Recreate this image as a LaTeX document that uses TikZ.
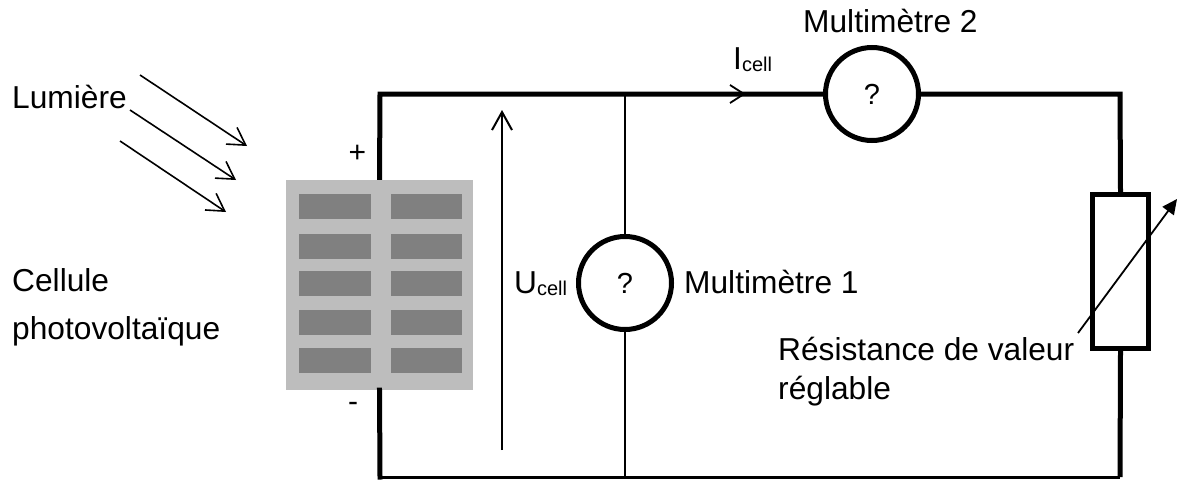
\documentclass[tikz,border=0pt]{standalone}
\usepackage{fontspec}
\setmainfont{Liberation Sans}
\usetikzlibrary{arrows.meta}
\tikzset{
  x=1pt,y=-1pt,
  lab/.style={font=\fontsize{31.7}{36}\selectfont,inner sep=0pt,anchor=base west},
  small/.style={font=\fontsize{30}{34}\selectfont,inner sep=0pt},
  meter/.style={circle,draw,line width=5pt,fill=white,minimum size=93pt,inner sep=0pt,font=\fontsize{29}{33}\selectfont},
  thick wire/.style={line width=5pt},
  thin wire/.style={line width=2.6pt},
  ray/.style={line width=1.6pt,-{Straight Barb[length=17pt,width=20pt]}},
  panel/.style={fill=black!26,draw=none,minimum width=187pt,minimum height=210pt,inner sep=0pt},
  cellbox/.style={fill=black!50,draw=none,minimum width=71.5pt,minimum height=25pt,inner sep=0pt},
  res/.style={draw,line width=5pt,fill=white,minimum width=56pt,minimum height=154pt,inner sep=0pt}
}
\newcommand{\subcell}{\raisebox{-2.5pt}{\fontsize{20}{24}\selectfont cell}}
\begin{document}
\begin{tikzpicture}
\useasboundingbox (0,0) rectangle (1177,479);
% corners
\coordinate (tl) at (380,94);
\coordinate (bl) at (380,477);
\coordinate (tr) at (1120,94);
\coordinate (br) at (1120,477);
\coordinate (tm) at (625,94);
\coordinate (bm) at (625,477);
% wires
\node[res] (R) at (1120.5,271.5) {};
\node[panel] (P) at (379.5,285) {};
\draw[thin wire] (tm) -- (bm);
\draw[line width=3pt] (bl) -- (br);
\node[meter] (M1) at (625,283) {?};
\node[meter] (M2) at (872,94) {?};
\draw[thick wire,line join=miter] (P.north) -- (tl) -- (M2.west);
\draw[thick wire,line join=miter] (M2.east) -- (tr) -- (R.north);
\draw[thick wire,line join=miter] (R.south) -- (br);
\draw[thick wire,line cap=rect] (P.south) -- (bl);
% cells
\foreach \y [count=\i] in {206.7,246.4,283.5,322.2,360.7}{
  \node[cellbox] (ca\i) at (335,\y) {};
  \node[cellbox] (cb\i) at (426.7,\y) {};
}
% current arrow
\coordinate (ia) at (745,94);
\draw[line width=1.8pt] (730,85) -- (744,94) -- (730,103);
% voltage arrow
\coordinate (ua) at (502,450);
\coordinate (ub) at (502,110);
\draw[line width=2pt,-{Straight Barb[length=18pt,width=20pt]}] (ua) -- (ub);
% light rays
\coordinate (r1a) at (140,75); \coordinate (r1b) at (247,146);
\coordinate (r2a) at (130,110); \coordinate (r2b) at (236,180);
\coordinate (r3a) at (120,141); \coordinate (r3b) at (226,212);
\draw[ray] (r1a) -- (r1b);
\draw[ray] (r2a) -- (r2b);
\draw[ray] (r3a) -- (r3b);
% variable resistor arrow
\coordinate (va) at (1078,333);
\coordinate (vb) at (1177,199);
\draw[line width=1.8pt,-{Triangle[length=15pt,width=14pt]}] (va) -- (vb);
% labels
\node[lab] (tL) at (12,108) {Lumière};
\node[lab] (tC) at (12,291) {Cellule};
\node[lab] (tP) at (12,339) {photovoltaïque};
\node[small,anchor=base] (tp) at (357.5,162) {+};
\node[small,anchor=base] (tm2) at (353,411) {-};
\node[lab,inner sep=0pt] (tM2) at (803,32) {Multimètre 2};
\node[lab,anchor=base west] (tI) at (733,69) {I\subcell};
\node[lab] (tU) at (514,293) {U\subcell};
\node[lab] (tM1) at (684,293) {Multimètre 1};
\node[lab] (tR1) at (778,360) {Résistance de valeur};
\node[lab] (tR2) at (778,399) {réglable};
\end{tikzpicture}
\end{document}
